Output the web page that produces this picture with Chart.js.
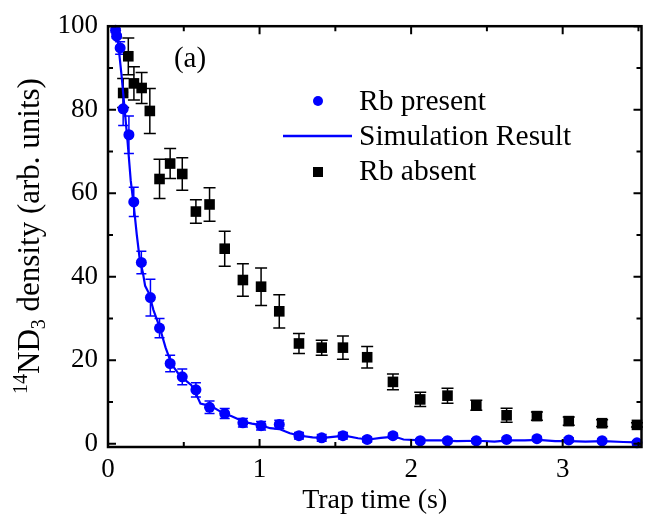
<!DOCTYPE html>
<html>
<head>
<meta charset="utf-8">
<script src="https://cdn.jsdelivr.net/npm/chart.js@4/dist/chart.umd.min.js"></script>
<style>
  html, body { margin: 0; padding: 0; background: #fff; }
  #wrap { width: 649px; height: 520px; }
</style>
</head>
<body>
<div id="wrap"><canvas id="c" width="649" height="520"></canvas></div>
<script>
// ---- Data ----
const presentX   = [0.05, 0.057, 0.08, 0.10, 0.138, 0.17, 0.22, 0.28, 0.34, 0.41, 0.49, 0.58, 0.67, 0.77, 0.89, 1.01, 1.13, 1.26, 1.41, 1.55, 1.71, 1.88, 2.06, 2.24, 2.43, 2.63, 2.83, 3.04, 3.26, 3.49];
const presentY   = [99.0, 97.6, 94.8, 80.2, 74.0, 57.9, 43.4, 35.0, 27.7, 19.2, 16.0, 12.9, 8.7, 7.2, 5.0, 4.3, 4.6, 1.9, 1.4, 1.9, 1.0, 1.9, 0.7, 0.7, 0.7, 1.0, 1.2, 0.9, 0.7, 0.2];
const presentErr = [0.5, 0.5, 1.5, 4.0, 4.5, 3.5, 2.7, 4.4, 2.3, 2.0, 1.9, 1.7, 1.5, 1.2, 1.0, 1.0, 1.0, 0.8, 0.8, 0.8, 0.6, 0.6, 0.5, 0.5, 0.5, 0.5, 0.5, 0.5, 0.5, 0.5];

const absentX   = [0.10, 0.134, 0.171, 0.222, 0.276, 0.34, 0.41, 0.49, 0.58, 0.67, 0.77, 0.89, 1.01, 1.13, 1.26, 1.41, 1.55, 1.71, 1.88, 2.06, 2.24, 2.43, 2.63, 2.83, 3.04, 3.26, 3.49];
const absentY   = [84.0, 92.8, 86.3, 85.2, 79.7, 63.4, 67.1, 64.6, 55.6, 57.3, 46.7, 39.2, 37.6, 31.7, 24.0, 23.0, 23.0, 20.7, 14.8, 10.6, 11.5, 9.2, 6.8, 6.6, 5.4, 4.9, 4.5];
const absentErr = [3.5, 4.4, 4.0, 3.7, 5.4, 4.7, 3.6, 3.9, 2.8, 4.0, 4.2, 3.9, 4.5, 4.0, 2.4, 1.8, 2.8, 2.6, 1.9, 1.7, 1.8, 1.2, 1.7, 1.0, 1.0, 0.8, 0.5];

const simX = [0.05, 0.07, 0.09, 0.11, 0.13, 0.15, 0.17, 0.19, 0.21, 0.23, 0.245, 0.27, 0.30, 0.34, 0.38, 0.42, 0.46, 0.50, 0.55, 0.58, 0.61, 0.68, 0.75, 0.82, 0.90, 0.95, 1.00, 1.07, 1.13, 1.20, 1.27, 1.35, 1.42, 1.50, 1.56, 1.65, 1.72, 1.80, 1.89, 1.95, 2.07, 2.20, 2.30, 2.44, 2.55, 2.64, 2.75, 2.84, 2.95, 3.05, 3.15, 3.27, 3.40, 3.50];
const simY = [100, 95, 88, 80, 72, 63, 57, 50, 44, 41, 37.8, 36, 32, 28, 23, 19, 17, 15.5, 14, 12, 9.6, 9, 7.5, 6.5, 5.2, 4.8, 4.5, 3.7, 3.5, 2.5, 1.9, 1.5, 1.4, 1.7, 1.9, 1.3, 1.0, 1.4, 1.7, 1.0, 0.8, 0.8, 0.6, 0.7, 0.5, 0.8, 0.8, 0.9, 0.6, 0.6, 0.5, 0.6, 0.4, 0.3];

const xTickVals = [0, 1, 2, 3];
const xMinorVals = [0.5, 1.5, 2.5, 3.5];
const yTickVals = [0, 20, 40, 60, 80, 100];
const yMinorVals = [10, 30, 50, 70, 90];

const legendLabels = ['Rb present', 'Simulation Result', 'Rb absent'];
const panelLabel = '(a)';
const xTitle = 'Trap time (s)';

// ---- Build ----
const FONT = 'Liberation Serif';
const BLUE = '#0000ff';
const toPts = (xs, ys) => xs.map((x, i) => ({ x: x, y: ys[i] }));

const errorBars = {
  id: 'errorBars',
  beforeDatasetsDraw(chart) {
    const ctx = chart.ctx;
    const xs = chart.scales.x, ys = chart.scales.y;
    const sets = [
      { xs: absentX, ys: absentY, es: absentErr, color: '#000', cap: 6 },
      { xs: presentX, ys: presentY, es: presentErr, color: BLUE, cap: 5 }
    ];
    ctx.save();
    ctx.lineWidth = 1.5;
    sets.forEach(s => {
      ctx.strokeStyle = s.color;
      s.xs.forEach((xv, i) => {
        const px = xs.getPixelForValue(xv);
        const y1 = ys.getPixelForValue(s.ys[i] + s.es[i]);
        const y2 = ys.getPixelForValue(s.ys[i] - s.es[i]);
        ctx.beginPath();
        ctx.moveTo(px, y1); ctx.lineTo(px, y2);
        ctx.moveTo(px - s.cap, y1); ctx.lineTo(px + s.cap, y1);
        ctx.moveTo(px - s.cap, y2); ctx.lineTo(px + s.cap, y2);
        ctx.stroke();
      });
    });
    ctx.restore();
  }
};

const decor = {
  id: 'decor',
  afterDraw(chart) {
    const ctx = chart.ctx;
    const a = chart.chartArea;
    const xs = chart.scales.x, ys = chart.scales.y;
    ctx.save();
    // frame
    ctx.strokeStyle = '#000';
    ctx.lineWidth = 2.5;
    ctx.strokeRect(a.left, a.top, a.right - a.left, a.bottom - a.top);
    // ticks (inward, all four sides)
    ctx.lineWidth = 2;
    ctx.beginPath();
    const xt = (v, len) => {
      const p = xs.getPixelForValue(v);
      ctx.moveTo(p, a.bottom); ctx.lineTo(p, a.bottom - len);
      ctx.moveTo(p, a.top); ctx.lineTo(p, a.top + len);
    };
    const yt = (v, len) => {
      const p = ys.getPixelForValue(v);
      ctx.moveTo(a.left, p); ctx.lineTo(a.left + len, p);
      ctx.moveTo(a.right, p); ctx.lineTo(a.right - len, p);
    };
    xTickVals.forEach(v => xt(v, 8));
    xMinorVals.forEach(v => xt(v, 5));
    yTickVals.forEach(v => yt(v, 8));
    yMinorVals.forEach(v => yt(v, 5));
    ctx.stroke();

    // y title with super/subscripts
    ctx.fillStyle = '#000';
    ctx.textBaseline = 'alphabetic';
    const big = '31px "' + FONT + '"', small = '20px "' + FONT + '"';
    const parts = [
      { t: '14', f: small, dy: -12 },
      { t: 'ND', f: big, dy: 0 },
      { t: '3', f: small, dy: 6 },
      { t: ' density (arb. units)', f: big, dy: 0 }
    ];
    let total = 0;
    parts.forEach(p => { ctx.font = p.f; p.w = ctx.measureText(p.t).width; total += p.w; });
    ctx.translate(39, 236);
    ctx.rotate(-Math.PI / 2);
    let cx = -total / 2;
    parts.forEach(p => { ctx.font = p.f; ctx.fillText(p.t, cx, p.dy); cx += p.w; });
    ctx.setTransform(1, 0, 0, 1, 0, 0);

    // panel label
    ctx.font = '29px "' + FONT + '"';
    ctx.textAlign = 'center';
    ctx.textBaseline = 'alphabetic';
    ctx.fillText(panelLabel, 190, 67);

    // legend
    ctx.textAlign = 'left';
    ctx.font = '29.5px "' + FONT + '"';
    ctx.fillText(legendLabels[0], 359, 110);
    ctx.fillText(legendLabels[1], 359, 144.5);
    ctx.fillText(legendLabels[2], 359, 180);
    ctx.fillStyle = BLUE;
    ctx.beginPath(); ctx.arc(318, 101, 5, 0, Math.PI * 2); ctx.fill();
    ctx.strokeStyle = BLUE; ctx.lineWidth = 2.5;
    ctx.beginPath(); ctx.moveTo(283, 136); ctx.lineTo(352, 136); ctx.stroke();
    ctx.fillStyle = '#000';
    ctx.fillRect(313, 167, 10, 10);
    ctx.restore();
  }
};

new Chart(document.getElementById('c'), {
  type: 'scatter',
  data: {
    datasets: [
      {
        label: legendLabels[1],
        data: toPts(simX, simY),
        showLine: true,
        borderColor: BLUE,
        borderWidth: 2.2,
        pointRadius: 0,
        tension: 0,
        order: 1
      },
      {
        label: legendLabels[0],
        data: toPts(presentX, presentY),
        backgroundColor: BLUE,
        borderColor: BLUE,
        borderWidth: 0,
        pointStyle: 'circle',
        pointRadius: 5.5,
        clip: false,
        order: 2
      },
      {
        label: legendLabels[2],
        data: toPts(absentX, absentY),
        backgroundColor: '#000',
        borderColor: '#000',
        borderWidth: 0,
        pointStyle: 'rect',
        pointRadius: 7.5,
        clip: false,
        order: 3
      }
    ]
  },
  options: {
    responsive: false,
    animation: false,
    devicePixelRatio: 1,
    layout: { padding: { top: 17, right: 6, left: 0, bottom: 0 } },
    plugins: { legend: { display: false }, tooltip: { enabled: false } },
    scales: {
      x: {
        type: 'linear',
        position: 'bottom',
        min: 0,
        max: 3.52,
        grid: { display: false, drawTicks: false },
        border: { display: false },
        afterBuildTicks: s => { s.ticks = xTickVals.map(v => ({ value: v })); },
        afterFit: s => { s.height = 73; },
        ticks: { color: '#000', font: { family: FONT, size: 27 }, padding: 7, maxRotation: 0 },
        title: { display: true, text: xTitle, color: '#000', font: { family: FONT, size: 28 }, padding: { top: 0, bottom: 3 } }
      },
      y: {
        type: 'linear',
        min: -0.8,
        max: 100,
        grid: { display: false, drawTicks: false },
        border: { display: false },
        afterBuildTicks: s => { s.ticks = yTickVals.map(v => ({ value: v })); },
        afterFit: s => { s.width = 108; },
        ticks: { color: '#000', font: { family: FONT, size: 27 }, padding: 10 }
      }
    }
  },
  plugins: [errorBars, decor]
});
</script>
</body>
</html>
